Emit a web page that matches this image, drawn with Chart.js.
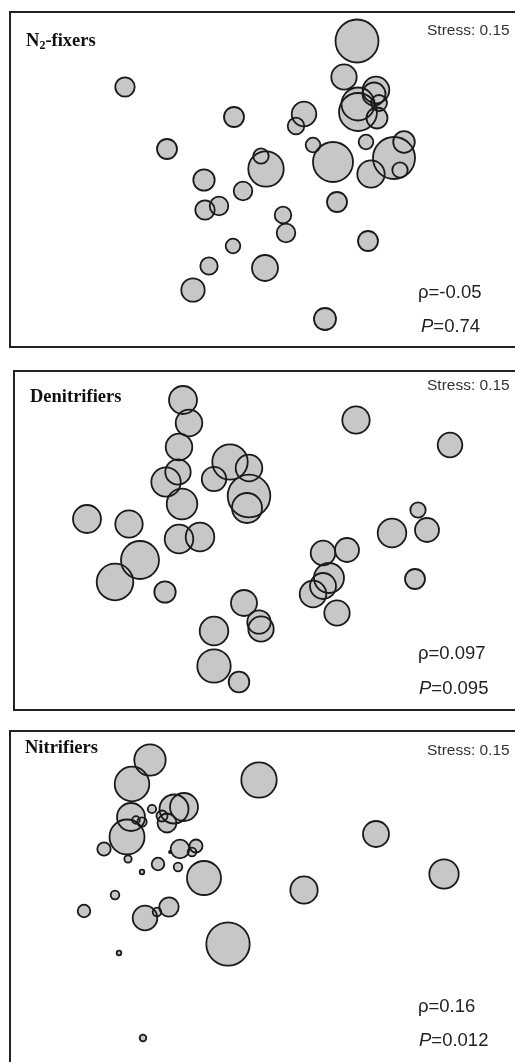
<!DOCTYPE html>
<html>
<head>
<meta charset="utf-8">
<script src="https://cdn.jsdelivr.net/npm/chart.js@4/dist/chart.umd.min.js"></script>
<style>
  html, body { margin: 0; padding: 0; background: #fff; }
  body { width: 515px; height: 1062px; overflow: hidden; position: relative; }
  canvas { position: absolute; }
  .lbl { position: absolute; white-space: nowrap; line-height: 1; }
  .title { font-family: "Liberation Serif", "Times New Roman", serif; font-weight: bold; font-size: 18.5px; color: #111; }
  .title sub { font-size: 12px; vertical-align: -3px; }
  .stress { font-family: "Liberation Sans", Arial, sans-serif; font-size: 15.5px; color: #333; }
  .stat { font-family: "Liberation Sans", Arial, sans-serif; font-size: 18.5px; color: #222; }
</style>
</head>
<body>
<canvas id="c1"></canvas>
<canvas id="c2"></canvas>
<canvas id="c3"></canvas>

<script>
// NMDS ordination scores (axis 1 / axis 2) and bubble radii per sample
const n2X = [0.97, 0.84, -1.35, 1.16, 1.14, 0.98, 0.98, 1.19, 1.17, -0.26, 0.44, 0.36, -0.93, 0.53, 0.73, 1.06, 1.44, 1.34, 1.11, 1.40, 0.06, 0.01, -0.56, -0.17, -0.55, -0.41, 0.77, 0.23, 0.26, -0.27, 1.08, -0.51, 0.05, -0.67, 0.65];
const n2Y = [1.39, 1.03, 0.93, 0.90, 0.86, 0.76, 0.68, 0.77, 0.62, 0.63, 0.66, 0.54, 0.31, 0.35, 0.18, 0.38, 0.38, 0.22, 0.06, 0.10, 0.11, 0.24, 0.00, -0.11, -0.30, -0.26, -0.22, -0.35, -0.53, -0.66, -0.61, -0.86, -0.88, -1.10, -1.39];
const n2R = [21.5, 12.7, 9.7, 13.3, 11.5, 16.5, 19, 8, 10.5, 10, 12.3, 8.3, 10, 7.3, 20, 7.3, 10.8, 21, 13.7, 7.7, 17.7, 7.7, 10.7, 9.3, 9.7, 9.3, 10, 8.3, 9.3, 7.3, 10, 8.7, 13, 11.7, 11];

const denX = [-0.77, -0.71, -0.81, -0.82, -0.94, -0.78, -0.30, -0.11, -0.46, -0.11, -0.13, 0.96, 1.90, -1.73, -1.31, -0.81, -0.60, -1.20, -1.45, -0.95, 1.58, 1.32, 1.67, 0.63, 0.87, 0.69, 0.63, 0.53, 1.55, 0.77, -0.16, -0.01, 0.01, -0.46, -0.46, -0.21];
const denY = [1.40, 1.17, 0.93, 0.68, 0.58, 0.36, 0.78, 0.72, 0.61, 0.44, 0.32, 1.20, 0.95, 0.21, 0.16, 0.01, 0.03, -0.20, -0.42, -0.52, 0.30, 0.07, 0.10, -0.13, -0.10, -0.38, -0.46, -0.54, -0.39, -0.73, -0.63, -0.82, -0.89, -0.91, -1.26, -1.42];
const denR = [14, 13.3, 13.3, 12.7, 14.7, 15.3, 17.7, 13.3, 12.2, 21.3, 15, 13.7, 12.3, 14, 13.7, 14.3, 14.3, 19, 18.3, 10.7, 7.7, 14.3, 12, 12.3, 12, 15, 13, 13.3, 10, 12.7, 13, 11.7, 12.7, 14.3, 16.7, 10.3];

const nitX = [-1.10, -1.28, -0.01, -1.29, -1.33, -0.86, -0.76, -0.93, -1.08, -0.98, -1.24, -1.18, -1.56, -1.32, -0.80, -0.64, -0.68, -1.02, -0.82, -1.18, -0.56, 1.16, 1.84, 0.44, -1.45, -1.76, -1.15, -0.91, -1.03, -0.32, -1.41, -1.17, -0.90];
const nitY = [1.35, 1.11, 1.15, 0.78, 0.58, 0.86, 0.88, 0.72, 0.86, 0.79, 0.75, 0.73, 0.46, 0.36, 0.46, 0.49, 0.43, 0.31, 0.28, 0.23, 0.17, 0.61, 0.21, 0.05, 0.00, -0.16, -0.23, -0.12, -0.17, -0.49, -0.58, -1.43, 0.43];
const nitR = [15.7, 17.3, 17.7, 14, 17.5, 14.5, 14, 9.5, 4.2, 5.5, 3.8, 4.7, 6.7, 3.7, 9.3, 6.5, 4.3, 6.3, 4.3, 2.3, 17, 13, 14.7, 13.7, 4.3, 6.3, 12.3, 9.7, 4.3, 21.7, 2.3, 3.3, 1];

// Panel annotations
const panelTitles = ['N<sub>2</sub>-fixers', 'Denitrifiers', 'Nitrifiers'];
const stressValues = ['0.15', '0.15', '0.15'];
const rhoValues = ['-0.05', '0.097', '0.16'];
const pValues = ['0.74', '0.095', '0.012'];

// Frame geometry of each panel (page pixels) and the axis window shown in it
const panels = [
  { id: 'c1', x: n2X, y: n2Y, r: n2R, box: { left: 10, top: 12, bottom: 347 }, xr: [-2.5, 2.58], yr: [-1.67, 1.68],
    text: { title: [26, 46], stress: [427, 35], rho: [418, 299], p: [421, 333] } },
  { id: 'c2', x: denX, y: denY, r: denR, box: { left: 14, top: 371, bottom: 710 }, xr: [-2.46, 2.58], yr: [-1.70, 1.69],
    text: { title: [30, 402], stress: [427, 390.5], rho: [418, 660], p: [419, 695] } },
  { id: 'c3', x: nitX, y: nitY, r: nitR, box: { left: 10, top: 731, bottom: 1070 }, xr: [-2.5, 2.58], yr: [-1.75, 1.64],
    text: { title: [25, 753], stress: [427, 755], rho: [418, 1013], p: [419, 1046.5] } }
];

const FILL = '#c6c7c9';
const EDGE = '#1a1a1a';

const framePlugin = {
  id: 'frame',
  afterDraw(chart) {
    const a = chart.chartArea, ctx = chart.ctx;
    ctx.save();
    ctx.strokeStyle = '#222';
    ctx.lineWidth = 2;
    ctx.strokeRect(a.left, a.top, a.right - a.left, a.bottom - a.top);
    ctx.restore();
  }
};

function addLabel(cls, html, x, baseline, ascent) {
  const d = document.createElement('div');
  d.className = 'lbl ' + cls;
  d.innerHTML = html;
  d.style.left = x + 'px';
  d.style.top = (baseline - ascent) + 'px';
  document.body.appendChild(d);
}

panels.forEach((p, i) => {
  const pad = 3;
  const cv = document.getElementById(p.id);
  const W = 525 - p.box.left;
  const H = p.box.bottom - p.box.top + 2 * pad;
  cv.width = W; cv.height = H;
  cv.style.width = W + 'px'; cv.style.height = H + 'px';
  cv.style.left = (p.box.left - pad) + 'px';
  cv.style.top = (p.box.top - pad) + 'px';

  const pts = p.x.map((v, k) => ({ x: v, y: p.y[k], r: p.r[k] }));

  new Chart(cv, {
    type: 'bubble',
    data: {
      datasets: [
        // fills underneath (higher order), outlines on top so every overlapping edge stays visible
        { data: pts, order: 2, backgroundColor: FILL, borderWidth: 0, hoverBorderWidth: 0 },
        { data: pts, order: 1, backgroundColor: 'rgba(0,0,0,0)', borderColor: EDGE, borderWidth: 1.8, hoverBorderWidth: 1.8 }
      ]
    },
    options: {
      responsive: false,
      animation: false,
      devicePixelRatio: 1,
      events: [],
      layout: { autoPadding: false, padding: { left: pad, top: pad, bottom: pad, right: 4 } },
      plugins: { legend: { display: false }, tooltip: { enabled: false }, title: { display: false } },
      scales: {
        x: { type: 'linear', display: false, min: p.xr[0], max: p.xr[1] },
        y: { type: 'linear', display: false, min: p.yr[0], max: p.yr[1] }
      }
    },
    plugins: [framePlugin]
  });

  const t = p.text;
  addLabel('title', panelTitles[i], t.title[0], t.title[1], 15.5);
  addLabel('stress', 'Stress: ' + stressValues[i], t.stress[0], t.stress[1], 13.1);
  addLabel('stat', '\u03C1=' + rhoValues[i], t.rho[0], t.rho[1], 15.6);
  addLabel('stat', '<i>P</i>=' + pValues[i], t.p[0], t.p[1], 15.6);
});
</script>
</body>
</html>
